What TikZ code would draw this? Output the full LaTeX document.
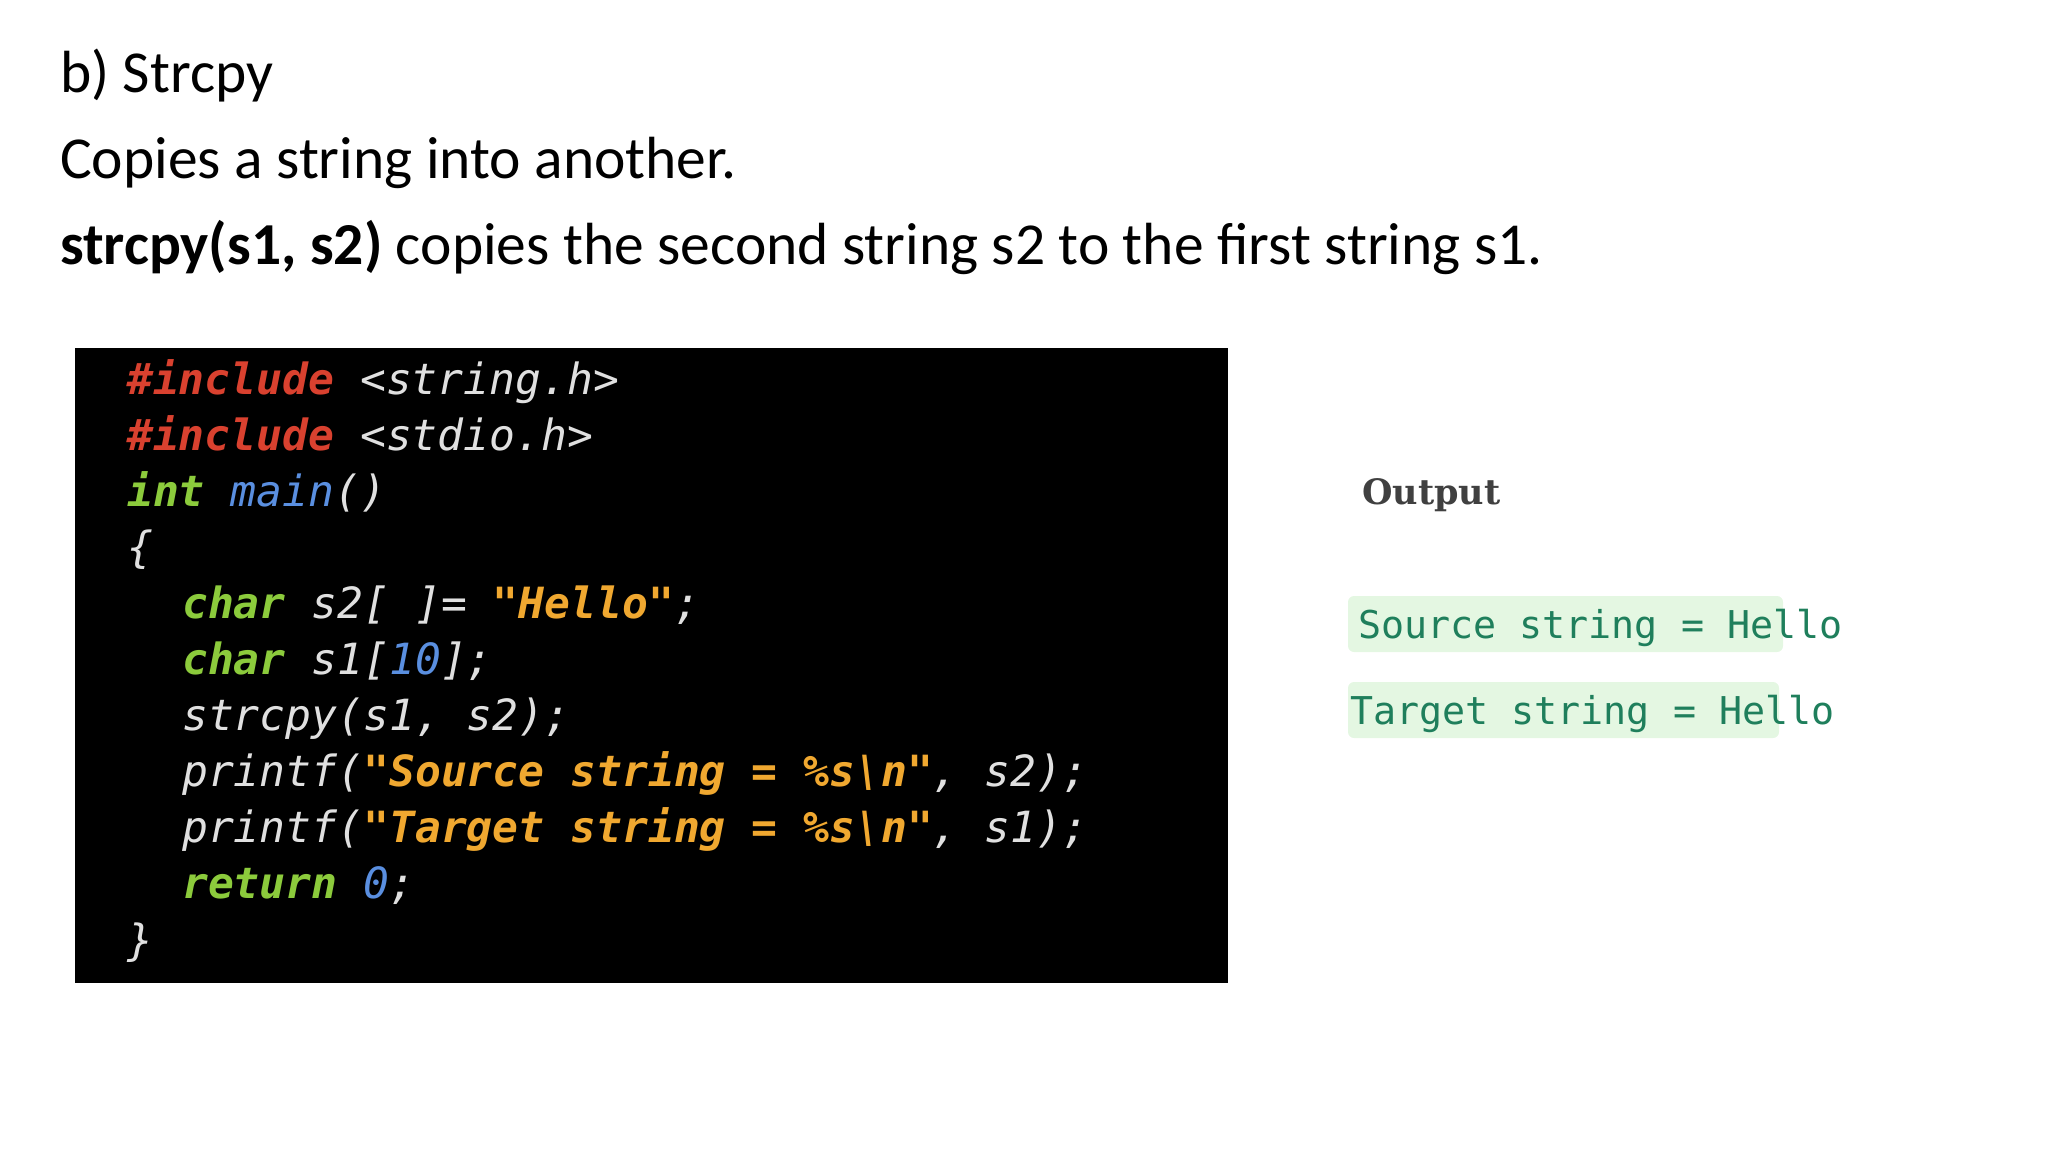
\documentclass[tikz,border=0pt]{standalone}
\usepackage{fontspec}
\setmainfont{Carlito}
\newfontfamily\codefont{DejaVu Sans Mono}
\newfontfamily\outserif{DejaVu Serif}
\definecolor{kwred}{HTML}{D9412F}
\definecolor{kwgreen}{HTML}{8CCB3C}
\definecolor{kwblue}{HTML}{5A8FE0}
\definecolor{strorange}{HTML}{F0A830}
\definecolor{codefg}{HTML}{E0E0E0}
\definecolor{outgreen}{HTML}{1F7F5C}
\definecolor{outbg}{HTML}{E4F7E2}
\tikzset{
  txt/.style={anchor=base west, inner sep=0pt, font=\fontsize{59.5}{66}\selectfont},
  code/.style={anchor=base west, inner sep=0pt, text=codefg, font=\codefont\itshape\fontsize{43}{50}\selectfont},
  outline/.style={anchor=base west, inner sep=0pt, text=outgreen, font=\codefont\fontsize{38.3}{44}\selectfont},
  outbox/.style={fill=outbg, rounded corners=6pt, draw=none}
}
\begin{document}
\begin{tikzpicture}[x=1pt,y=-1pt]
\useasboundingbox (0,0) rectangle (2048,1152);
\node[txt] (t1) at (60,92) {b) Strcpy};
\node[txt] (t2) at (60,178) {Copies a string into another.};
\node[txt] (t3) at (60,264) {\textbf{strcpy(s1, s2)} copies the second string s2 to the first string s1.};
\fill[black] (75,348) rectangle (1228,983);
\node[code] (c1) at (127,394) {\textcolor{kwred}{\textbf{\#include}} <string.h>};
\node[code] (c2) at (127,450) {\textcolor{kwred}{\textbf{\#include}} <stdio.h>};
\node[code] (c3) at (127,506) {\textcolor{kwgreen}{\textbf{int}} \textcolor{kwblue}{main}()};
\node[code] (c4) at (127,562) {\{};
\node[code] (c5) at (182,618) {\textcolor{kwgreen}{\textbf{char}} s2[ ]= \textcolor{strorange}{\textbf{"Hello"}};};
\node[code] (c6) at (182,674) {\textcolor{kwgreen}{\textbf{char}} s1[\textcolor{kwblue}{10}];};
\node[code] (c7) at (182,730) {strcpy(s1, s2);};
\node[code] (c8) at (182,786) {printf(\textcolor{strorange}{\textbf{"Source string = \%s\textbackslash n"}}, s2);};
\node[code] (c9) at (182,842) {printf(\textcolor{strorange}{\textbf{"Target string = \%s\textbackslash n"}}, s1);};
\node[code] (c10) at (182,898) {\textcolor{kwgreen}{\textbf{return}} \textcolor{kwblue}{0};};
\node[code] (c11) at (127,955) {\}};
\node[anchor=base west, inner sep=0pt, text=black!75, font=\outserif\bfseries\fontsize{35}{42}\selectfont] (out) at (1362,504) {Output};
\fill[outbox] (1348,596) rectangle (1783,652);
\fill[outbox] (1348,682) rectangle (1779,738);
\node[outline] (o1) at (1358,638) {Source string = Hello};
\node[outline] (o2) at (1350,724) {Target string = Hello};
\end{tikzpicture}
\end{document}
